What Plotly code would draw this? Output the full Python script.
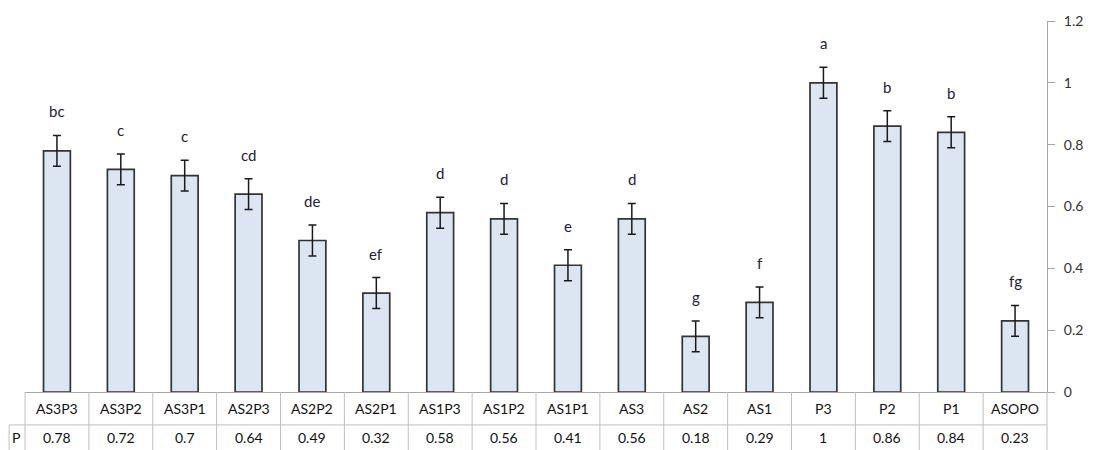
import plotly.graph_objects as go

categories = ["AS3P3", "AS3P2", "AS3P1", "AS2P3", "AS2P2", "AS2P1", "AS1P3", "AS1P2",
              "AS1P1", "AS3", "AS2", "AS1", "P3", "P2", "P1", "ASOPO"]
values = [0.78, 0.72, 0.7, 0.64, 0.49, 0.32, 0.58, 0.56, 0.41, 0.56, 0.18, 0.29, 1, 0.86, 0.84, 0.23]
errors = [0.05] * 16
letters = ["bc", "c", "c", "cd", "de", "ef", "d", "d", "e", "d", "g", "f", "a", "b", "b", "fg"]
value_labels = ["0.78", "0.72", "0.7", "0.64", "0.49", "0.32", "0.58", "0.56", "0.41", "0.56",
                "0.18", "0.29", "1", "0.86", "0.84", "0.23"]
row_label = "P"
y_ticks = [0, 0.2, 0.4, 0.6, 0.8, 1, 1.2]

FONT = "Lato"
W, H = 1095, 450
ML, MR, MT, MB = 25, 40, 20, 58
PW = W - ML - MR
PH = H - MT - MB
n = len(categories)

fig = go.Figure()
fig.add_trace(go.Bar(
    x=list(range(n)), y=values, width=0.42,
    marker=dict(color="#DCE6F2", line=dict(color="#333333", width=1.7)),
    error_y=dict(type="data", array=errors, visible=True, color="#1a1a1a", thickness=1.5, width=4),
    showlegend=False, hoverinfo="skip",
))

ann = []
for i, (v, e, l) in enumerate(zip(values, errors, letters)):
    ann.append(dict(x=i, y=v + e, xref="x", yref="y", text=l, showarrow=False,
                    yanchor="bottom", yshift=13, font=dict(family=FONT, size=15, color="#222233")))

def py(px):
    return -(px - (MT + PH)) / PH

def pxx(px):
    return (px - ML) / PW

row1_y = py(408.5)
row2_y = py(438)
line_y = py(425)
bottom_y = py(452)

for i, (c, vl) in enumerate(zip(categories, value_labels)):
    ann.append(dict(x=i, y=row1_y, xref="x", yref="paper", text=c, showarrow=False,
                    yanchor="middle", font=dict(family=FONT, size=14, color="#111111")))
    ann.append(dict(x=i, y=row2_y, xref="x", yref="paper", text=vl, showarrow=False,
                    yanchor="middle", font=dict(family=FONT, size=14, color="#111111")))
ann.append(dict(x=pxx(16), y=row2_y, xref="paper", yref="paper", text=row_label, showarrow=False,
                xanchor="center", yanchor="middle", font=dict(family=FONT, size=14, color="#111111")))

shapes = []
grid_col = "#BFBFBF"
for k in range(n + 1):
    shapes.append(dict(type="line", xref="paper", yref="paper", x0=k / n, x1=k / n,
                       y0=0, y1=bottom_y, line=dict(color=grid_col, width=1)))
shapes.append(dict(type="line", xref="paper", yref="paper", x0=pxx(9), x1=1,
                   y0=line_y, y1=line_y, line=dict(color=grid_col, width=1)))
shapes.append(dict(type="line", xref="paper", yref="paper", x0=pxx(9), x1=pxx(9),
                   y0=line_y, y1=bottom_y, line=dict(color=grid_col, width=1)))

fig.update_layout(
    width=W, height=H, margin=dict(l=ML, r=MR, t=MT, b=MB),
    paper_bgcolor="white", plot_bgcolor="white",
    annotations=ann, shapes=shapes,
    xaxis=dict(range=[-0.5, n - 0.5], showticklabels=False, ticks="", showgrid=False,
               zeroline=False, showline=True, linecolor="#A6A6A6", linewidth=1),
    yaxis=dict(range=[0, 1.2], side="right", tickvals=y_ticks,
               ticktext=[("%g" % t) for t in y_ticks], ticks="outside", ticklen=7,
               tickcolor="#A6A6A6", showline=True, linecolor="#A6A6A6", linewidth=1,
               showgrid=False, zeroline=False, ticklabelstandoff=6,
               tickfont=dict(family=FONT, size=14, color="#333333")),
)

fig.write_html("out.html")
